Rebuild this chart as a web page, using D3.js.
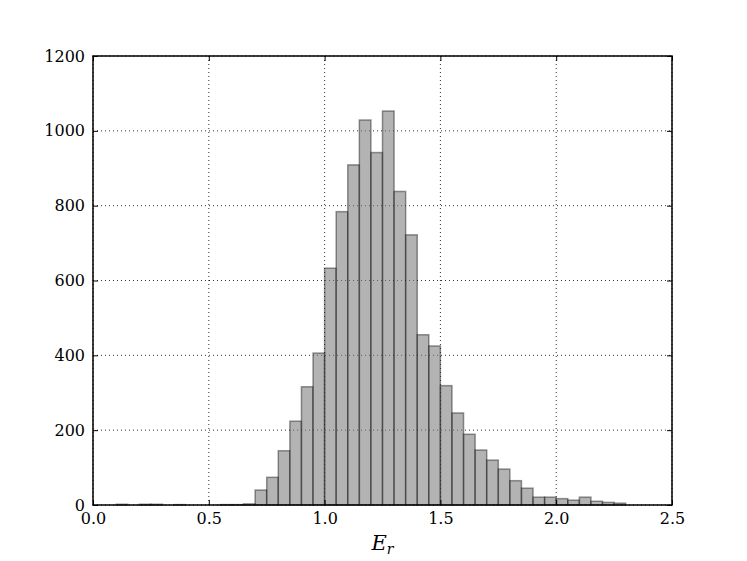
<!DOCTYPE html>
<html><head><meta charset="utf-8">
<script src="https://cdn.jsdelivr.net/npm/d3@7"></script>
<style>body{margin:0;background:#fff}svg{display:block}</style>
</head><body>
<script>
const binStart = [0.10,0.20,0.25,0.35,0.55,0.60,0.65,0.70,0.75,0.80,0.85,0.90,0.95,1.00,1.05,1.10,1.15,1.20,1.25,1.30,1.35,1.40,1.45,1.50,1.55,1.60,1.65,1.70,1.75,1.80,1.85,1.90,1.95,2.00,2.05,2.10,2.15,2.20,2.25];
const counts   = [2,2,2,1,1,1,3,40,74,145,224,316,406,633,784,909,1029,942,1053,838,722,455,425,319,246,189,147,120,96,65,45,21,21,17,13,21,10,7,5];
const binWidth = 0.05;
const xTicks = [0.0,0.5,1.0,1.5,2.0,2.5];
const yTicks = [0,200,400,600,800,1000,1200];

const W=747,H=561, L=93, R=672, T=56, B=505;
const svg=d3.select("body").append("svg").attr("width",W).attr("height",H);
const x=d3.scaleLinear().domain([0,2.5]).range([L,R]);
const y=d3.scaleLinear().domain([0,1200]).range([B,T]);

// grid
svg.append("g").selectAll("line.gx").data(xTicks).join("line")
 .attr("x1",d=>x(d)).attr("x2",d=>x(d)).attr("y1",T).attr("y2",B)
 .attr("stroke","#000").attr("stroke-width",1).attr("stroke-dasharray","1,3").attr("opacity",0.8);
svg.append("g").selectAll("line.gy").data(yTicks).join("line")
 .attr("x1",L).attr("x2",R).attr("y1",d=>y(d)).attr("y2",d=>y(d))
 .attr("stroke","#000").attr("stroke-width",1).attr("stroke-dasharray","1,3").attr("opacity",0.8);

// bars
svg.append("g").selectAll("rect").data(binStart).join("rect")
 .attr("x",d=>x(d)).attr("width",(d)=>x(d+binWidth)-x(d))
 .attr("y",(d,i)=>y(counts[i])).attr("height",(d,i)=>y(0)-y(counts[i]))
 .attr("fill","rgba(128,128,128,0.6)").attr("stroke","rgba(0,0,0,0.4)").attr("stroke-width",1.5);

// axes
const font="'DejaVu Serif', serif";
const ax=svg.append("g").attr("transform",`translate(0,${B})`)
 .call(d3.axisBottom(x).tickValues(xTicks).tickFormat(d3.format(".1f")).tickSizeInner(-5).tickSizeOuter(0).tickPadding(8));
const ay=svg.append("g").attr("transform",`translate(${L},0)`)
 .call(d3.axisLeft(y).tickValues(yTicks).tickFormat(d3.format("d")).tickSizeInner(-5).tickSizeOuter(0).tickPadding(8));
const axt=svg.append("g").attr("transform",`translate(0,${T})`)
 .call(d3.axisTop(x).tickValues(xTicks).tickFormat("").tickSizeInner(-5).tickSizeOuter(0));
const ayr=svg.append("g").attr("transform",`translate(${R},0)`)
 .call(d3.axisRight(y).tickValues(yTicks).tickFormat("").tickSizeInner(-5).tickSizeOuter(0));
[ax,ay,axt,ayr].forEach(g=>{
  g.select(".domain").remove();
  g.selectAll(".tick line").attr("stroke","#000");
  g.selectAll("text").attr("font-family",font).attr("font-size",16).attr("fill","#000");
});
svg.append("rect").attr("x",L).attr("y",T).attr("width",R-L).attr("height",B-T)
 .attr("fill","none").attr("stroke","#000").attr("stroke-width",1.5);

// x label
const lab=svg.append("text").attr("x",(L+R)/2).attr("y",550).attr("text-anchor","middle")
 .attr("font-family",font).attr("font-size",21).attr("font-style","italic");
lab.append("tspan").text("E");
lab.append("tspan").attr("font-size",14).attr("dy",4).text("r");
</script>
</body></html>
